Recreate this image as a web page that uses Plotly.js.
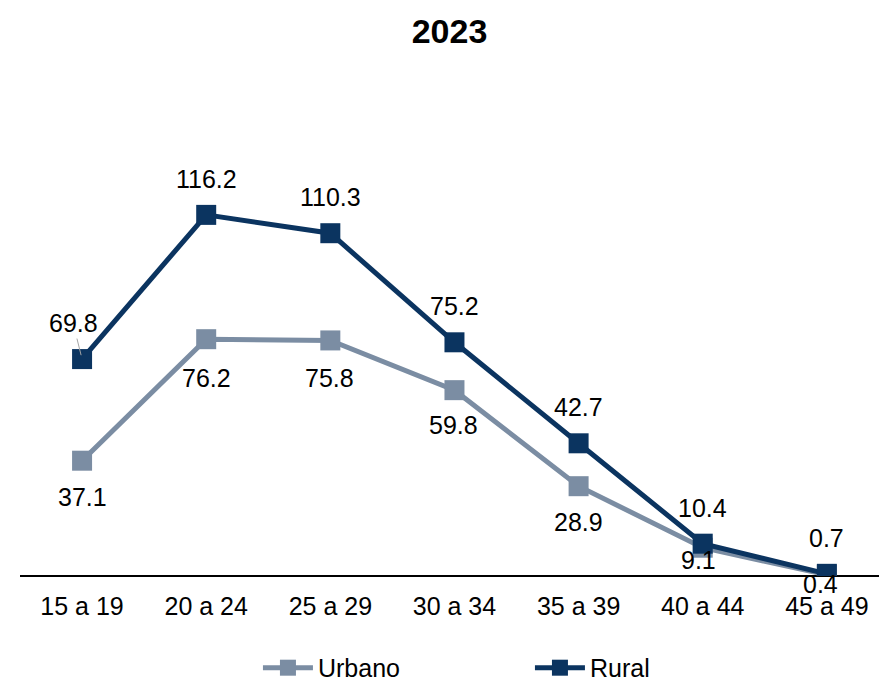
<!DOCTYPE html>
<html><head><meta charset="utf-8">
<script src="https://cdn.plot.ly/plotly-3.0.1.min.js"></script>
<style>html,body{margin:0;padding:0;background:#fff;}</style>
</head><body><div id="chart" style="width:879px;height:680px;"></div>
<script>
const categories = ["15 a 19","20 a 24","25 a 29","30 a 34","35 a 39","40 a 44","45 a 49"];
const urbano = [37.1, 76.2, 75.8, 59.8, 28.9, 9.1, 0.4];
const rural = [69.8, 116.2, 110.3, 75.2, 42.7, 10.4, 0.7];
const urbanoColor = "#7B8DA3";
const ruralColor = "#0B3460";
const font = "Arial, 'Liberation Sans', sans-serif";

const traces = [
  {x: categories, y: urbano, name: "Urbano", type: "scatter", mode: "lines+markers",
   line: {color: urbanoColor, width: 5}, marker: {symbol: "square", size: 20, color: urbanoColor}},
  {x: categories, y: rural, name: "Rural", type: "scatter", mode: "lines+markers",
   line: {color: ruralColor, width: 5}, marker: {symbol: "square", size: 20, color: ruralColor}}
];

const annotations = [];
const urbShift = [36, 39, 38, 35, 36, 12, 9];
const urbX = [0, 0, -1, -1, 0, -4, -6];
urbano.forEach((v, i) => annotations.push({x: categories[i], y: v, text: v.toFixed(1), showarrow: false,
  yshift: -urbShift[i], xshift: urbX[i], font: {family: font, size: 25, color: "#000"}}));
rural.forEach((v, i) => {
  if (i === 0) {
    annotations.push({x: categories[i], y: v, text: v.toFixed(1), showarrow: true, arrowhead: 0,
      arrowcolor: "#A6A6A6", arrowwidth: 1, ax: -9, ay: -36, standoff: 4,
      font: {family: font, size: 25, color: "#000"}});
  } else {
    annotations.push({x: categories[i], y: v, text: v.toFixed(1), showarrow: false,
      yshift: 36, xshift: 0, font: {family: font, size: 25, color: "#000"}});
  }
});

const layout = {
  width: 879, height: 680,
  margin: {l: 20, r: 0, t: 80, b: 104, autoexpand: false},
  paper_bgcolor: "#fff", plot_bgcolor: "#fff",
  title: {text: "<b>2023</b>", x: 0.5, xref: "paper", y: 0.955, yanchor: "middle",
    font: {family: font, size: 34, color: "#000"}},
  xaxis: {type: "category", range: [-0.5, 6.42], showgrid: false, zeroline: false,
    showline: false, ticks: "", ticklabelstandoff: 13,
    tickfont: {family: font, size: 25, color: "#000"}},
  yaxis: {range: [0, 159.6], showgrid: false, zeroline: true, zerolinecolor: "#000", zerolinewidth: 1.5,
    showticklabels: false, showline: false, ticks: ""},
  showlegend: true,
  legend: {orientation: "h", x: 0.277, xanchor: "left", y: -0.139, yanchor: "top",
    entrywidth: 207, entrywidthmode: "pixels", itemwidth: 50,
    font: {family: font, size: 25, color: "#000"}, bgcolor: "rgba(0,0,0,0)"},
  annotations: annotations
};
Plotly.newPlot("chart", traces, layout, {displayModeBar: false, staticPlot: true});
</script></body></html>
